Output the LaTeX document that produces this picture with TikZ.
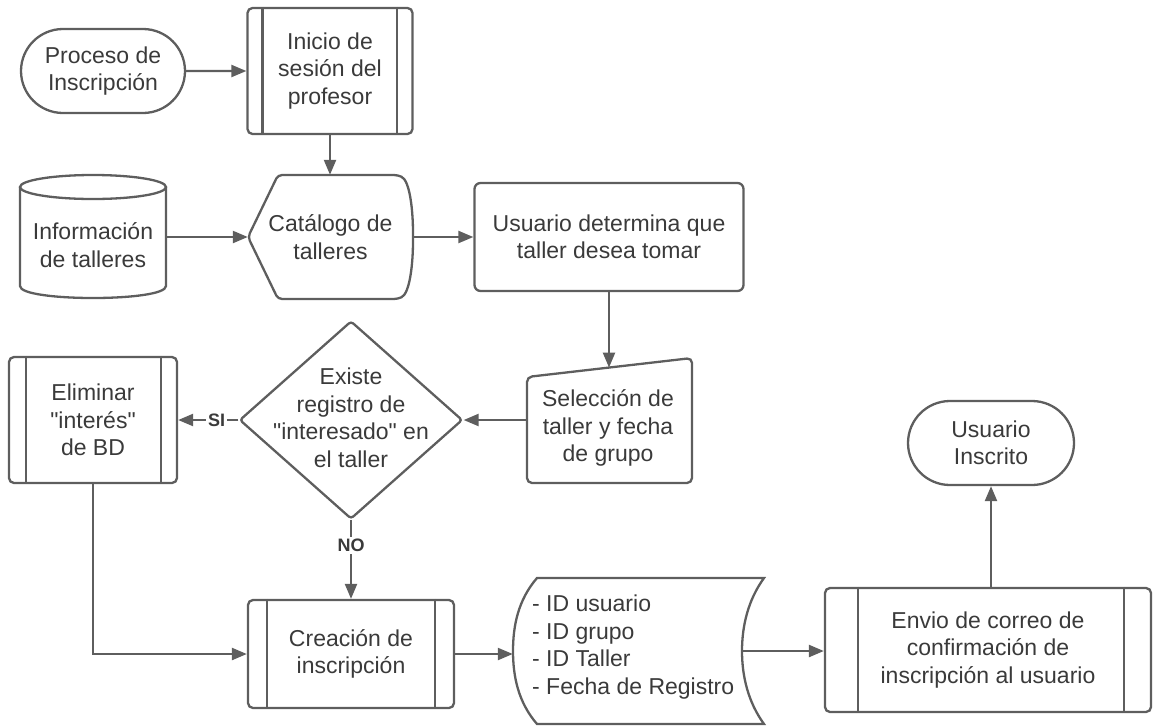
\documentclass[tikz,border=0pt]{standalone}
\usepackage{fontspec}
\setmainfont{Liberation Sans}[Ligatures=TeXOff]
\usetikzlibrary{arrows.meta,shapes.geometric,shapes.misc,calc}
\definecolor{linegray}{RGB}{94,94,94}
\definecolor{textgray}{RGB}{58,58,58}
\begin{document}
\begin{tikzpicture}[x=1pt,y=-1pt,
  every node/.style={font=\fontsize{23}{27.5}\selectfont, text=textgray, align=center, inner sep=0pt},
  outline/.style={draw=linegray, line width=2.3pt},
  conn/.style={draw=linegray, line width=2.3pt, -{Triangle[length=15pt,width=12pt]}},
  terminal/.style={outline, rounded rectangle},
  predef/.style={outline, rectangle, rounded corners=5pt},
  procbox/.style={outline, rectangle, rounded corners=6pt},
  holder/.style={rectangle, draw=none},
  decision/.style={outline, diamond, rounded corners=3pt},
  lbl/.style={font=\bfseries\fontsize{18}{20}\selectfont, fill=white, inner sep=2pt}
]
\useasboundingbox (0,0) rectangle (1153,726);

% ---- start terminal and login process ----
\node[terminal, minimum width=164pt, minimum height=84pt] (start) at (103,71) {Proceso de\\Inscripción};
\node[predef, minimum width=165pt, minimum height=126pt] (ini) at (330,71) {Inicio de\\sesión del\\profesor};
\draw[outline] ($(ini.north west)+(16,0)$) -- ($(ini.south west)+(16,0)$);
\draw[outline] ($(ini.north east)+(-17,0)$) -- ($(ini.south east)+(-17,0)$);

% ---- database cylinder ----
\node[holder, minimum width=146pt, minimum height=124pt] (db) at (93,237) {};
\draw[outline, fill=white] (20,187) -- (20,286) .. controls (20,302) and (166,302) .. (166,286) -- (166,187);
\draw[outline] (93,187) ellipse [x radius=73pt, y radius=12pt];
\node (dbtext) at (93,245) {Información\\de talleres};

% ---- catalogue (display shape) ----
\node[holder, minimum width=165pt, minimum height=124pt] (cat) at (330.5,237) {Catálogo de\\talleres};
\draw[outline, rounded corners=4pt] (248,237) -- (278,175) -- (398,175)
  .. controls (410,181) and (413,211) .. (413,237)
  .. controls (413,263) and (410,293) .. (398,299) -- (278,299) -- cycle;

% ---- user choice ----
\node[procbox, minimum width=269pt, minimum height=108pt] (proc) at (609,237) {Usuario determina que\\taller desea tomar};

% ---- manual input ----
\node[holder, minimum width=165pt, minimum height=126pt] (sel) at (609.5,420) {};
\draw[outline, rounded corners=5pt] (527,377) -- (692,358) -- (692,483) -- (527,483) -- cycle;
\coordinate (seltop) at (609,367.6);
\node (seltext) at (608,428) {Selección de\\taller y fecha\\de grupo};

% ---- decision ----
\node[decision, minimum width=223pt, minimum height=198pt] (dec) at (351,420) {};
\node (dectext) at (351,418) {Existe\\registro de\\"interesado" en\\el taller};

% ---- delete interest ----
\node[predef, minimum width=168pt, minimum height=126pt] (elim) at (93,420) {Eliminar\\"interés"\\de BD};
\draw[outline] ($(elim.north west)+(18,0)$) -- ($(elim.south west)+(18,0)$);
\draw[outline] ($(elim.north east)+(-17,0)$) -- ($(elim.south east)+(-17,0)$);

% ---- registration ----
\node[predef, minimum width=206pt, minimum height=108pt] (crea) at (351,654) {Creación de\\inscripción};
\draw[outline] ($(crea.north west)+(20,0)$) -- ($(crea.south west)+(20,0)$);
\draw[outline] ($(crea.north east)+(-20,0)$) -- ($(crea.south east)+(-20,0)$);

% ---- stored data ----
\node[holder, minimum width=251pt, minimum height=146pt] (stor) at (638.5,651) {};
\draw[outline] (537,578) -- (764,578)
  .. controls (748,600) and (742,626) .. (742,651)
  .. controls (742,676) and (748,702) .. (764,724) -- (537,724)
  .. controls (518,702) and (513,676) .. (513,651)
  .. controls (513,626) and (518,600) .. (537,578) -- cycle;
\coordinate (storright) at (742,651);
\node[align=left, anchor=west] (stortext) at (532,647) {- ID usuario\\- ID grupo\\- ID Taller\\- Fecha de Registro};

% ---- confirmation mail ----
\node[predef, minimum width=326pt, minimum height=124pt] (env) at (988,650) {Envio de correo de\\confirmación de\\inscripción al usuario};
\draw[outline] ($(env.north west)+(34,0)$) -- ($(env.south west)+(34,0)$);
\draw[outline] ($(env.north east)+(-28,0)$) -- ($(env.south east)+(-28,0)$);

% ---- end terminal ----
\node[terminal, minimum width=166pt, minimum height=84pt] (usr) at (991,443) {Usuario\\Inscrito};

% ---- connectors ----
\draw[conn] (start) -- (ini);
\draw[conn] (ini) -- (ini |- cat.north);
\draw[conn] (db.east) -- (db.east -| cat.west);
\draw[conn] (cat.east) -- (cat.east -| proc.west);
\draw[conn] (proc.south) -- (proc.south |- seltop);
\draw[conn] (sel.west) -- (dec.east);
\draw[conn] (dec.west) -- (elim.east) node[lbl, pos=0.36] (si) {SI};
\draw[conn] (dec.south) -- (crea.north) node[lbl, pos=0.32] (no) {NO};
\draw[conn] (elim.south) |- (crea.west);
\draw[conn] (crea.east) -- (crea.east -| stor.west);
\draw[conn] (storright) -- (storright -| env.west);
\draw[conn] (usr.south |- env.north) -- (usr.south);
\end{tikzpicture}
\end{document}
